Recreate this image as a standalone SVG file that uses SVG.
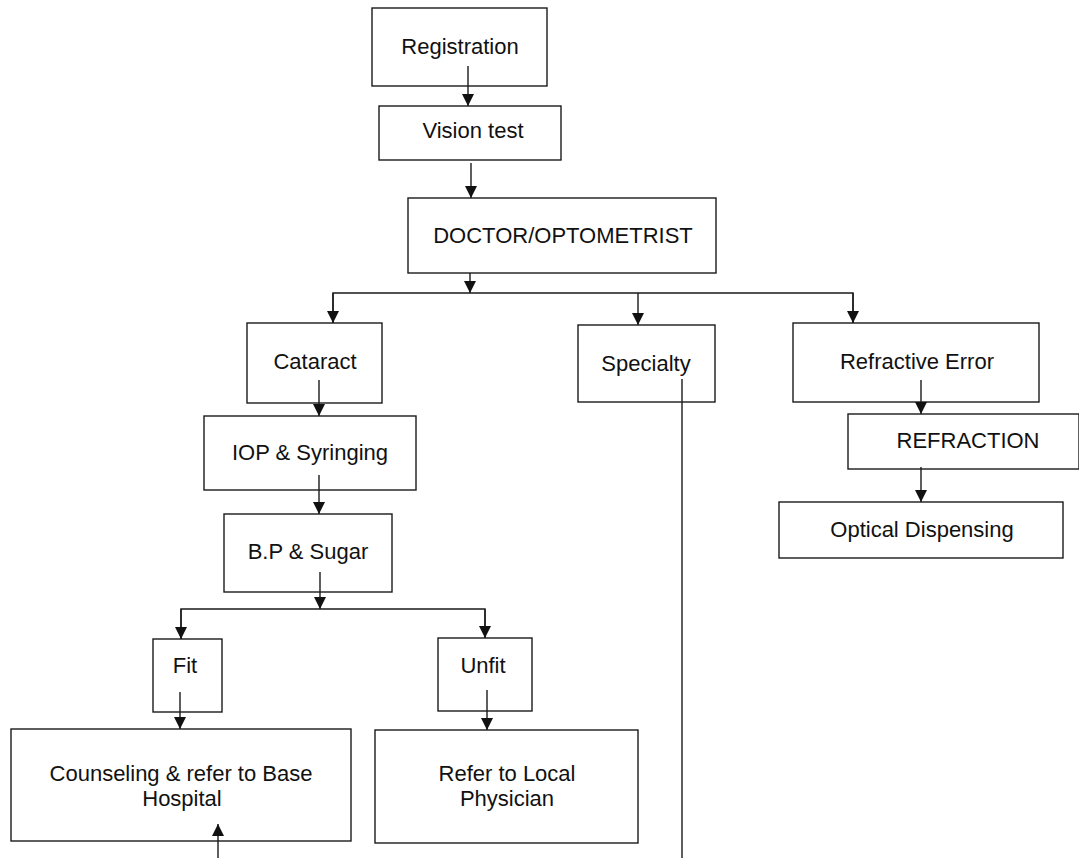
<svg xmlns="http://www.w3.org/2000/svg" width="1079" height="858" viewBox="0 0 1079 858">
<style>
.box{fill:#fff;stroke:#1a1a1a;stroke-width:1.4}
.lbl{font-family:"Liberation Sans",Arial,sans-serif;font-size:22px;fill:#111;text-anchor:middle}
.ln{fill:none;stroke:#1a1a1a;stroke-width:1.4}
</style>
<defs>
<marker id="ah" viewBox="0 0 12 12" refX="12" refY="6" markerWidth="12" markerHeight="12" markerUnits="userSpaceOnUse" orient="auto">
<path d="M0,0 L12,6 L0,12 Z" fill="#111"/>
</marker>
</defs>
<rect width="1079" height="858" fill="#fff"/>
<g id="registration"><rect class="box" x="372" y="8" width="175" height="78"/><text class="lbl" x="460" y="54">Registration</text></g>
<g id="vision-test"><rect class="box" x="379" y="106" width="182" height="54"/><text class="lbl" x="473" y="138">Vision test</text></g>
<g id="doctor"><rect class="box" x="408" y="198" width="308" height="75"/><text class="lbl" x="563" y="243">DOCTOR/OPTOMETRIST</text></g>
<g id="cataract"><rect class="box" x="247" y="323" width="135" height="80"/><text class="lbl" x="315" y="369">Cataract</text></g>
<g id="specialty"><rect class="box" x="578" y="325" width="137" height="77"/><text class="lbl" x="646" y="371">Specialty</text></g>
<g id="refractive-error"><rect class="box" x="793" y="323" width="246" height="79"/><text class="lbl" x="917" y="369">Refractive Error</text></g>
<g id="refraction"><rect class="box" x="848" y="414" width="231" height="55"/><text class="lbl" x="968" y="448">REFRACTION</text></g>
<g id="optical-dispensing"><rect class="box" x="779" y="502" width="284" height="56"/><text class="lbl" x="922" y="537">Optical Dispensing</text></g>
<g id="iop"><rect class="box" x="204" y="416" width="212" height="74"/><text class="lbl" x="310" y="460">IOP &amp; Syringing</text></g>
<g id="bp-sugar"><rect class="box" x="224" y="514" width="168" height="78"/><text class="lbl" x="308" y="559">B.P &amp; Sugar</text></g>
<g id="fit"><rect class="box" x="153" y="639" width="69" height="73"/><text class="lbl" x="185" y="673">Fit</text></g>
<g id="unfit"><rect class="box" x="438" y="638" width="94" height="73"/><text class="lbl" x="483" y="673">Unfit</text></g>
<g id="counseling"><rect class="box" x="11" y="729" width="340" height="112"/><text class="lbl" x="181" y="781">Counseling &amp; refer to Base</text><text class="lbl" x="182" y="806">Hospital</text></g>
<g id="refer-local"><rect class="box" x="375" y="730" width="263" height="113"/><text class="lbl" x="507" y="781">Refer to Local</text><text class="lbl" x="507" y="806">Physician</text></g>
<g id="connectors">
<line class="ln" x1="468" y1="66" x2="468" y2="106" marker-end="url(#ah)"/>
<line class="ln" x1="471" y1="163" x2="471" y2="198" marker-end="url(#ah)"/>
<line class="ln" x1="470" y1="273" x2="470" y2="293" marker-end="url(#ah)"/>
<polyline class="ln" points="333,323 333,293 853,293 853,323"/>
<line class="ln" x1="333" y1="293" x2="333" y2="323" marker-end="url(#ah)"/>
<line class="ln" x1="853" y1="293" x2="853" y2="323" marker-end="url(#ah)"/>
<line class="ln" x1="638" y1="293" x2="638" y2="325" marker-end="url(#ah)"/>
<line class="ln" x1="319" y1="380" x2="319" y2="416" marker-end="url(#ah)"/>
<line class="ln" x1="921" y1="380" x2="921" y2="414" marker-end="url(#ah)"/>
<line class="ln" x1="921" y1="467" x2="921" y2="502" marker-end="url(#ah)"/>
<line class="ln" x1="682" y1="379" x2="682" y2="858"/>
<line class="ln" x1="319" y1="475" x2="319" y2="514" marker-end="url(#ah)"/>
<line class="ln" x1="320" y1="572" x2="320" y2="609" marker-end="url(#ah)"/>
<polyline class="ln" points="181,639 181,609 485,609 485,638"/>
<line class="ln" x1="181" y1="609" x2="181" y2="639" marker-end="url(#ah)"/>
<line class="ln" x1="485" y1="609" x2="485" y2="638" marker-end="url(#ah)"/>
<line class="ln" x1="180" y1="692" x2="180" y2="729" marker-end="url(#ah)"/>
<line class="ln" x1="487" y1="690" x2="487" y2="730" marker-end="url(#ah)"/>
<line class="ln" x1="218" y1="858" x2="218" y2="824" marker-end="url(#ah)"/>
</g>
</svg>
